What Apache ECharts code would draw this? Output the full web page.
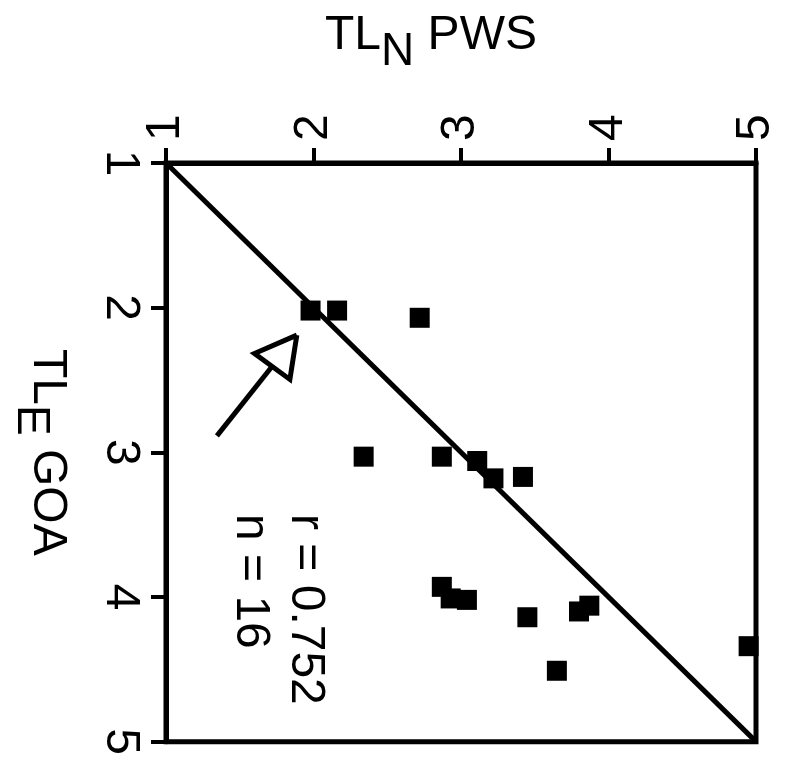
<!DOCTYPE html>
<html>
<head>
<meta charset="utf-8">
<style>
  html, body { margin: 0; padding: 0; background: #fff; }
  #chart { width: 785px; height: 758px; }
</style>
<script src="https://cdn.jsdelivr.net/npm/echarts@6/dist/echarts.min.js"></script>
</head>
<body>
<div id="chart"></div>
<script>
// TL_N PWS (x) against TL_E GOA (y)
const pwsValues = [1.98, 2.16, 2.72, 2.34, 2.87, 3.11, 3.22, 3.42, 2.87, 2.93, 3.04, 3.45, 3.80, 3.87, 3.65, 4.95];
const goaValues = [2.02, 2.02, 2.07, 3.03, 3.03, 3.06, 3.18, 3.17, 3.93, 4.01, 4.02, 4.14, 4.10, 4.06, 4.51, 4.34];
const axisTicks = [1, 2, 3, 4, 5];
const identityLine = [[1, 1], [5, 5]];
// arrow pointing at the (2, 2) pair
const arrowShaft = [[1.345, 2.886], [1.72, 2.405]];
const arrowHead = [[1.887, 2.19], [1.60, 2.317], [1.84, 2.496], [1.887, 2.19]];
const statsText = ['r = 0.752', 'n = 16'];

const FONT = '"Liberation Sans", Arial, Helvetica, sans-serif';
const points = pwsValues.map((x, i) => [x, goaValues[i]]);

const chart = echarts.init(document.getElementById('chart'));

const titleRich = {
  a: { fontSize: 48, fontFamily: FONT, color: '#000', lineHeight: 52, verticalAlign: 'top' },
  s: { fontSize: 46, fontFamily: FONT, color: '#000', lineHeight: 52, verticalAlign: 'top', padding: [17, 0, 0, 0] },
  // pushes the top title a bit left of the axis middle
  r: { fontSize: 48, fontFamily: FONT, color: '#000', lineHeight: 52, verticalAlign: 'top', padding: [0, 60, 0, 0] },
};

const axisCommon = {
  type: 'value',
  min: axisTicks[0],
  max: axisTicks[axisTicks.length - 1],
  interval: 1,
  splitLine: { show: false },
  axisLine: { show: true, lineStyle: { color: '#000', width: 5 } },
  axisTick: { show: true, inside: false, length: 15, lineStyle: { color: '#000', width: 4 } },
  axisLabel: { rotate: -90, fontSize: 48, fontFamily: FONT, color: '#000', margin: 22 },
  nameLocation: 'middle',
  nameTextStyle: { rich: titleRich },
};

const option = {
  animation: false,
  backgroundColor: '#fff',
  grid: {
    left: 165, top: 163, right: 29, bottom: 16,
    show: true, borderColor: '#000', borderWidth: 5, backgroundColor: 'transparent',
  },
  xAxis: Object.assign({}, axisCommon, {
    position: 'top',
    name: '{a|TL}{s|N}{r| PWS}',
    nameGap: 99,
  }),
  yAxis: Object.assign({}, axisCommon, {
    inverse: true,
    position: 'left',
    name: '{a|TL}{s|E}{a| GOA}',
    nameRotate: -90,
    nameGap: 95,
  }),
  series: [
    {
      type: 'line',
      data: identityLine,
      symbol: 'none',
      lineStyle: { color: '#000', width: 5 },
      z: 2,
    },
    {
      type: 'line',
      data: arrowShaft,
      symbol: 'none',
      lineStyle: { color: '#000', width: 5 },
    },
    {
      type: 'line',
      data: arrowHead,
      symbol: 'none',
      lineStyle: { color: '#000', width: 5, join: 'miter' },
    },
    {
      type: 'scatter',
      data: points,
      symbol: 'rect',
      symbolSize: 20,
      itemStyle: { color: '#000', opacity: 1 },
      z: 3,
    },
  ],
  graphic: [
    {
      type: 'text',
      x: 333,
      y: 514,
      rotation: -Math.PI / 2,
      style: {
        text: statsText.join('\n'),
        font: '48px ' + FONT,
        fill: '#000',
        lineHeight: 55,
        align: 'left',
        verticalAlign: 'top',
      },
    },
  ],
};

chart.setOption(option);
</script>
</body>
</html>
